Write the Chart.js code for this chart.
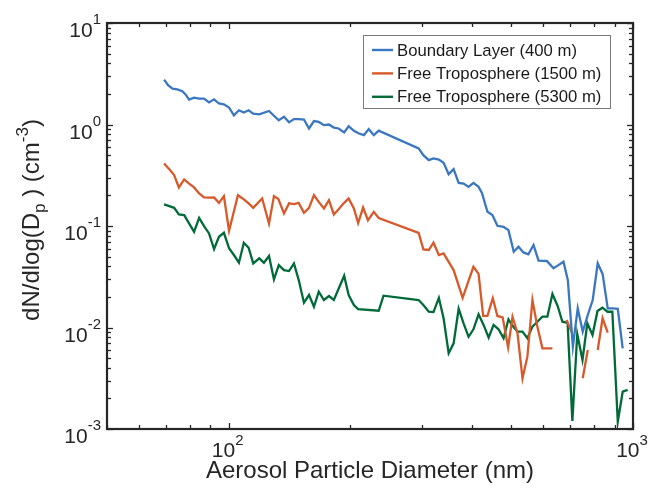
<!DOCTYPE html>
<html><head><meta charset="utf-8">
<script src="https://cdn.jsdelivr.net/npm/chart.js@4.4.0/dist/chart.umd.min.js"></script>
<style>html,body{margin:0;padding:0;background:#fff;}#wrap{width:649px;height:495px;position:relative;}canvas{display:block;}</style>
</head><body><div id="wrap"><canvas id="c" width="649" height="495"></canvas></div>
<script>
// ---------- DATA ----------
const seriesLabels = ['Boundary Layer (400 m)', 'Free Troposphere (1500 m)', 'Free Troposphere (5300 m)'];

const blueD = [69.2,70.8,72.6,74.6,76.8,78.3,79.8,82.1,84.5,86.9,89.4,92.0,94.6,97.3,100.2,103,106,109,112,115,119,125.8,129.4,133,137,141,145,149,153.5,158,162.5,167,172,177,182,187,193,198,204,210,216,222,228.5,235,295,303,312.5,321,331,340,350,360,370.5,381,392,403,415,423,436.5,449,462,478.5,492,507,521,536,551,567.5,584,612,636,654,673,690,710,730,751,773,795,818,841,866,891,917,943];
const blueN = [2.77,2.44,2.26,2.22,2.13,1.97,1.76,1.84,1.80,1.80,1.65,1.77,1.61,1.58,1.47,1.23,1.38,1.31,1.38,1.28,1.26,1.36,1.22,1.10,1.19,1.05,1.13,1.13,1.12,0.914,1.08,1.06,0.985,1.0,0.933,0.914,0.834,0.962,0.865,0.815,0.785,0.90,0.785,0.87,0.581,0.499,0.446,0.463,0.452,0.419,0.324,0.363,0.266,0.262,0.243,0.266,0.243,0.212,0.138,0.128,0.1005,0.098,0.091,0.0557,0.0624,0.0549,0.0525,0.0649,0.0455,0.0452,0.0383,0.0412,0.0445,0.0293,0.00647,0.01545,0.0091,0.01328,0.01866,0.0428,0.0337,0.01545,0.0154,0.0153,0.00624];

const orangeD = [69.2,71.3,73.3,75.3,77.6,79.8,82.1,84.5,86.9,89.4,92.0,94.6,97.3,100.2,105.4,109,112,115,121,125.8,129.4,132.7,137,141,145,149,153.5,158,162.5,167,172,177,182,187,193,198,204,209,215,221,228.5,235,295,303,312.5,321,331,340,360,379,390,403,415,426,436.5,450,462,476,491,503.5,518,533,548,564,580,597,632,660,685,706,730,751,773,795,818,841,866];
const orangeN = [0.413,0.363,0.317,0.240,0.288,0.262,0.240,0.209,0.191,0.190,0.191,0.169,0.197,0.0898,0.201,0.183,0.167,0.151,0.187,0.106,0.197,0.184,0.133,0.167,0.164,0.169,0.135,0.151,0.201,0.173,0.149,0.180,0.130,0.146,0.169,0.187,0.149,0.107,0.152,0.114,0.138,0.120,0.0857,0.0588,0.058,0.0684,0.0518,0.0537,0.0368,0.0196,0.0272,0.0396,0.0337,0.0130,0.0130,0.0194,0.0130,0.0126,0.00638,0.01277,0.00877,0.00316,0.00516,0.01866,0.0102,0.00624,0.00624,null,0.01186,0.0089,null,0.00316,0.0060,null,0.0060,0.01233,0.0089];

const greenD = [69.2,71.3,73.3,75.3,77.6,79.8,82.1,84.5,86.9,89.4,92.0,94.6,97.3,100.2,103,106,109,112,115,119,122.2,125.8,129.4,133,137,141,145,149,153.5,158,162.5,167,172,177,182,193,198,204,209,235,241.5,295,303,312.5,321,331,340,350,360,370.5,381,392,403,415,427,439.5,452,465,478.5,492,503.5,518,533,548,564,580,597,614,632,651,669,689,708,728,750,771,794,817,840,865,889,917,943,970];
const greenN = [0.163,0.157,0.151,0.130,0.128,0.106,0.0877,0.120,0.0998,0.0845,0.0593,0.0783,0.0857,0.0603,0.0518,0.0435,0.0684,0.0610,0.0428,0.048,0.0435,0.0506,0.0298,0.0412,0.0368,0.036,0.0428,0.0293,0.01754,0.0209,0.0160,0.0225,0.01866,0.0204,0.01866,0.0324,0.0209,0.01664,0.0152,0.01462,0.0206,0.01866,0.01664,0.0143,0.0142,0.0196,0.01233,0.00557,0.00698,0.0153,0.0110,0.0081,0.0096,0.0135,0.0106,0.00794,0.0106,0.0096,0.00783,0.01205,0.0104,0.0091,0.0091,0.00783,0.0102,0.0114,0.01277,0.01277,0.0214,0.0163,0.0114,0.0111,0.0012,0.00863,0.00479,0.0110,0.00843,0.01452,0.01567,0.0143,0.0143,0.00118,0.00233,0.00243];

const xTickValues = [100, 1000];
const xTickExponents = ['2', '3'];
const yTickValues = [10, 1, 0.1, 0.01, 0.001];
const yTickExponents = ['1', '0', '-1', '-2', '-3'];
const xTitle = 'Aerosol Particle Diameter (nm)';

// ---------- STYLE ----------
const colors = ['#3a77c0', '#d65a2a', '#006a38'];
const AXIS = '#262626';
const FONT = '"Liberation Sans", Arial, Helvetica, sans-serif';

function toPoints(d, n) { return d.map((v, i) => ({x: v, y: n[i]})); }

const datasets = [[blueD, blueN], [orangeD, orangeN], [greenD, greenN]].map((s, i) => ({
  label: seriesLabels[i],
  data: toPoints(s[0], s[1]),
  borderColor: colors[i],
  backgroundColor: colors[i],
  borderWidth: 2.3,
  pointRadius: 0,
  tension: 0,
  spanGaps: false,
  fill: false
}));

function drawPow(ctx, exp, x, baseY, expY, align, bSize, eSize) {
  ctx.font = bSize + 'px ' + FONT;
  const wb = ctx.measureText('10').width;
  ctx.font = eSize + 'px ' + FONT;
  const we = ctx.measureText(exp).width;
  const w = wb + we;
  let sx = align === 'right' ? x - w : x - w / 2;
  ctx.textAlign = 'left';
  ctx.textBaseline = 'alphabetic';
  ctx.font = bSize + 'px ' + FONT;
  ctx.fillText('10', sx, baseY);
  ctx.font = eSize + 'px ' + FONT;
  ctx.fillText(exp, sx + wb, expY);
}

const matlabAxes = {
  id: 'matlabAxes',
  afterDraw(chart) {
    const {ctx, chartArea: a, scales: {x, y}} = chart;
    ctx.save();
    ctx.strokeStyle = AXIS;
    ctx.fillStyle = AXIS;
    const line = (x1, y1, x2, y2) => { ctx.beginPath(); ctx.moveTo(x1, y1); ctx.lineTo(x2, y2); ctx.stroke(); };
    ctx.lineWidth = 1.3;
    const minorLen = 4, majorLen = 6;
    [10, 100].forEach(d => { for (let m = 2; m <= 9; m++) { const v = d * m; if (v < x.min || v > x.max) continue;
      const px = Math.round(x.getPixelForValue(v)) + 0.5; line(px, a.bottom, px, a.bottom - minorLen); line(px, a.top, px, a.top + minorLen); } });
    xTickValues.forEach(v => { const px = Math.round(x.getPixelForValue(v)) + 0.5; line(px, a.bottom, px, a.bottom - majorLen); line(px, a.top, px, a.top + majorLen); });
    [0.001, 0.01, 0.1, 1].forEach(d => { for (let m = 2; m <= 9; m++) { const v = d * m;
      const py = Math.round(y.getPixelForValue(v)) + 0.5; line(a.left, py, a.left + minorLen, py); line(a.right, py, a.right - minorLen, py); } });
    yTickValues.forEach(v => { const py = Math.round(y.getPixelForValue(v)) + 0.5; line(a.left, py, a.left + majorLen, py); line(a.right, py, a.right - majorLen, py); });
    ctx.lineWidth = 2.2;
    ctx.strokeRect(a.left, a.top, a.right - a.left, a.bottom - a.top);

    ctx.fillStyle = '#262626';
    yTickValues.forEach((v, i) => { const py = y.getPixelForValue(v); drawPow(ctx, yTickExponents[i], a.left - 6, py + 14, py + 1, 'right', 21, 15); });
    xTickValues.forEach((v, i) => { const px = x.getPixelForValue(v); drawPow(ctx, xTickExponents[i], px - 1, a.bottom + 28, a.bottom + 16, 'center', 21, 15); });

    ctx.font = '24px ' + FONT;
    ctx.textAlign = 'center'; ctx.textBaseline = 'alphabetic';
    ctx.fillText(xTitle, (a.left + a.right) / 2, a.bottom + 49);

    const parts = [
      {t: 'dN/dlog(D', s: 24, dy: 0},
      {t: 'p', s: 17, dy: 6},
      {t: ' ) (cm', s: 24, dy: 0},
      {t: '-3', s: 17, dy: -11},
      {t: ')', s: 24, dy: 0}
    ];
    let total = 0;
    parts.forEach(p => { ctx.font = p.s + 'px ' + FONT; p.w = ctx.measureText(p.t).width; total += p.w; });
    ctx.save();
    ctx.translate(39, (a.top + a.bottom) / 2 - 6);
    ctx.rotate(-Math.PI / 2);
    ctx.textAlign = 'left';
    let cx = -total / 2;
    parts.forEach(p => { ctx.font = p.s + 'px ' + FONT; ctx.fillText(p.t, cx, p.dy); cx += p.w; });
    ctx.restore();

    const lx = 363.5, ly = 35.5, lw = 247, lh = 73;
    ctx.fillStyle = '#ffffff';
    ctx.fillRect(lx, ly, lw, lh);
    ctx.strokeStyle = '#7a7a7a'; ctx.lineWidth = 1;
    ctx.strokeRect(lx, ly, lw, lh);
    ctx.font = '16.7px ' + FONT;
    ctx.textAlign = 'left'; ctx.textBaseline = 'middle';
    chart.data.datasets.forEach((ds, i) => {
      const ry = 50 + i * 23.4;
      ctx.strokeStyle = ds.borderColor; ctx.lineWidth = 2.4;
      line(372, ry, 393, ry);
      ctx.fillStyle = '#1a1a1a';
      ctx.fillText(ds.label, 397, ry + 1);
    });
    ctx.restore();
  }
};

new Chart(document.getElementById('c'), {
  type: 'line',
  data: {datasets},
  options: {
    responsive: false,
    animation: false,
    devicePixelRatio: 1,
    layout: {padding: {left: 107, right: 16, top: 23, bottom: 66}},
    plugins: {legend: {display: false}, tooltip: {enabled: false}},
    scales: {
      x: {type: 'logarithmic', min: 50, max: 1000, display: false},
      y: {type: 'logarithmic', min: 0.001, max: 10, display: false}
    }
  },
  plugins: [matlabAxes]
});
</script>
</body></html>
